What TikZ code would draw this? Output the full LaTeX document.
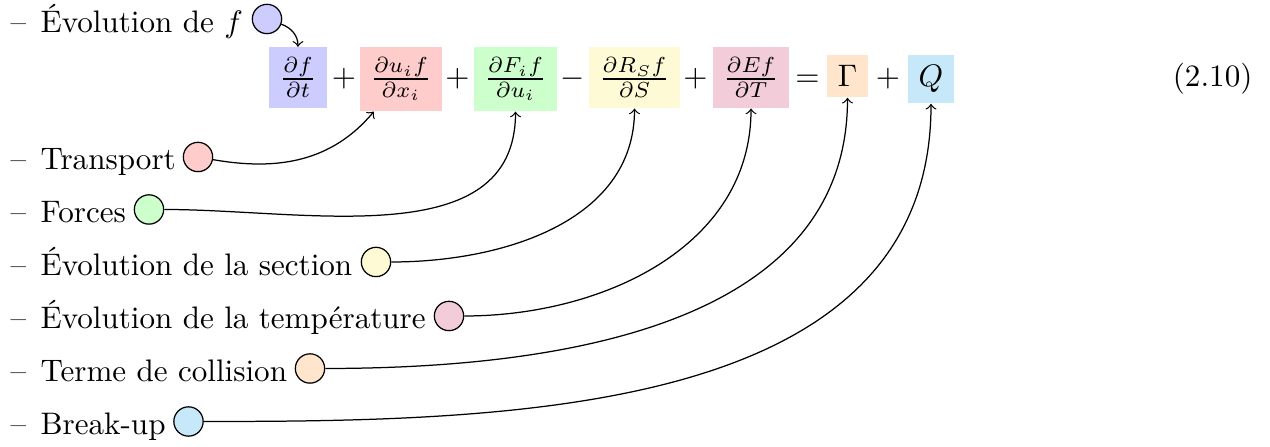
\documentclass[tikz,border=0pt]{standalone}
\definecolor{cA}{RGB}{204,204,255}
\definecolor{cB}{RGB}{255,204,204}
\definecolor{cC}{RGB}{204,255,204}
\definecolor{cD}{RGB}{255,250,214}
\definecolor{cE}{RGB}{242,204,217}
\definecolor{cF}{RGB}{255,229,204}
\definecolor{cG}{RGB}{199,232,248}
\begin{document}
\begin{tikzpicture}[x=0.3215pt,y=0.3215pt,
  term/.style={fill=#1, inner sep=.3333em, anchor=base},
  op/.style={anchor=base, inner sep=0pt},
  dot/.style={circle, draw, fill=#1, inner sep=.3333em},
  itemtext/.style={anchor=base west, inner sep=0pt},
  link/.style={->}]
\useasboundingbox (0,0) rectangle (1270,447);
% equation
\node[term=cA] (t1) at (298,360.2) {$\frac{\partial f}{\partial t}$};
\node[op] (p1) at (344,360.2) {$+$};
\node[term=cB] (t2) at (401,360.2) {$\frac{\partial u_i f}{\partial x_i}$};
\node[op] (p2) at (457.5,360.2) {$+$};
\node[term=cC] (t3) at (515.5,360.2) {$\frac{\partial F_i f}{\partial u_i}$};
\node[op] (p3) at (573,360.2) {$-$};
\node[term=cD] (t4) at (634.5,360.2) {$\frac{\partial R_S f}{\partial S}$};
\node[op] (p4) at (695.5,360.2) {$+$};
\node[term=cE] (t5) at (751,360.2) {$\frac{\partial E f}{\partial T}$};
\node[op] (p5) at (807.5,360.2) {$=$};
\node[term=cF] (t6) at (847.5,360.2) {$\Gamma$};
\node[op] (p6) at (888,360.2) {$+$};
\node[term=cG] (t7) at (931,360.2) {$Q$};
\node[anchor=base east, inner sep=0pt] (eqn) at (1253,360.2) {(2.10)};
% items
\node[itemtext] (d0) at (10,414) {\textendash};
\node[itemtext] (l0) at (40,414) {Évolution de $f$};
\node[dot=cA] (c0) at (267,428) {};
\node[itemtext] (d1) at (10,277) {\textendash};
\node[itemtext] (l1) at (40,277) {Transport};
\node[dot=cB] (c1) at (198,290) {};
\node[itemtext] (d2) at (10,224.5) {\textendash};
\node[itemtext] (l2) at (40,224.5) {Forces};
\node[dot=cC] (c2) at (149,237.5) {};
\node[itemtext] (d3) at (10,171.5) {\textendash};
\node[itemtext] (l3) at (40,171.5) {Évolution de la section};
\node[dot=cD] (c3) at (376,185) {};
\node[itemtext] (d4) at (10,118) {\textendash};
\node[itemtext] (l4) at (40,118) {Évolution de la température};
\node[dot=cE] (c4) at (449,131) {};
\node[itemtext] (d5) at (10,65.5) {\textendash};
\node[itemtext] (l5) at (40,65.5) {Terme de collision};
\node[dot=cF] (c5) at (310,78.5) {};
\node[itemtext] (d6) at (10,12) {\textendash};
\node[itemtext] (l6) at (40,12) {Break-up};
\node[dot=cG] (c6) at (188.5,25.5) {};
% links
\draw[link] (c0) to[out=-20,in=90] (t1);
\draw[link] (c1) to[out=-10,in=-130] (t2);
\draw[link] (c2) to[out=0,in=-90] (t3);
\draw[link] (c3) to[out=0,in=-90] (t4);
\draw[link] (c4) to[out=0,in=-90] (t5);
\draw[link] (c5) to[out=0,in=-90] (t6);
\draw[link] (c6) to[out=0,in=-90] (t7);
\end{tikzpicture}
\end{document}
